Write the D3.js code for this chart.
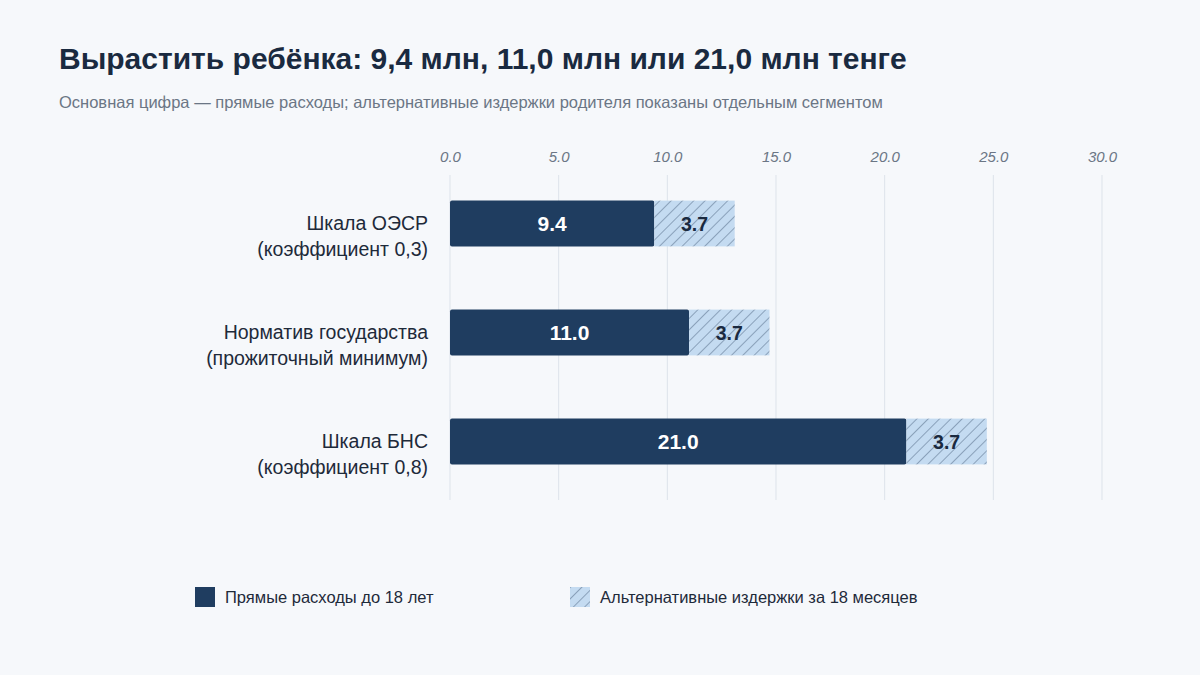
<!DOCTYPE html>
<html lang="ru">
<head>
<meta charset="UTF-8">
<title>Вырастить ребёнка</title>
<script src="https://cdn.jsdelivr.net/npm/d3@7"></script>
<style>
    body { margin: 0; background: #f6f8fb; }
    svg { display: block; font-family: "Liberation Sans", Arial, sans-serif; }
    .tick text { font-style: italic; fill: #6b7685; font-size: 15px; }
</style>
</head>
<body>
<svg width="1200" height="675"></svg>
<script>
// данные
var categories = [
    ["Шкала ОЭСР", "(коэффициент 0,3)"],
    ["Норматив государства", "(прожиточный минимум)"],
    ["Шкала БНС", "(коэффициент 0,8)"]
];
var direct = [9.4, 11.0, 21.0];
var opportunity = [3.7, 3.7, 3.7];
var tickValues = [0, 5, 10, 15, 20, 25, 30];
var seriesNames = ["Прямые расходы до 18 лет", "Альтернативные издержки за 18 месяцев"];

var dark = "#1f3d60", light = "#c4dbf1", hatchLine = "#6a829c";

var svg = d3.select("svg");

// штриховка
var defs = svg.append("defs");
var pat = defs.append("pattern")
    .attr("id", "hatch")
    .attr("patternUnits", "userSpaceOnUse")
    .attr("width", 8).attr("height", 8)
    .attr("patternTransform", "rotate(45)");
pat.append("rect").attr("width", 8).attr("height", 8).attr("fill", light);
pat.append("line").attr("x1", 0).attr("y1", 0).attr("x2", 0).attr("y2", 8)
    .attr("stroke", hatchLine).attr("stroke-width", 1.3);

svg.append("text").attr("x", 59).attr("y", 69)
    .attr("font-size", 30).attr("font-weight", 700).attr("fill", "#1a2a40")
    .text("Вырастить ребёнка: 9,4 млн, 11,0 млн или 21,0 млн тенге");
svg.append("text").attr("x", 59).attr("y", 108)
    .attr("font-size", 16.5).attr("fill", "#6b7685")
    .text("Основная цифра — прямые расходы; альтернативные издержки родителя показаны отдельным сегментом");

var x = d3.scaleLinear().domain([0, 30]).range([450, 1102]);
var y = d3.scaleBand().domain(d3.range(categories.length)).range([169, 496]).paddingInner(0.58).paddingOuter(0.29);

// сетка
svg.append("g").selectAll("line").data(tickValues).enter().append("line")
    .attr("x1", function(d) { return x(d); }).attr("x2", function(d) { return x(d); })
    .attr("y1", 175).attr("y2", 500)
    .attr("stroke", "#dde3ea").attr("stroke-width", 1);

var axis = d3.axisTop(x).tickValues(tickValues).tickFormat(d3.format(".1f")).tickSize(0).tickPadding(0);
svg.append("g").attr("transform", "translate(0,162)").call(axis)
    .call(function(g) { g.select(".domain").remove(); });

// подписи категорий
var lab = svg.append("g").selectAll("text").data(categories).enter().append("text")
    .attr("text-anchor", "end").attr("font-size", 19.5).attr("fill", "#1e2a3a");
lab.selectAll("tspan").data(function(d, i) { return d.map(function(t, j) { return { t: t, i: i, j: j }; }); })
    .enter().append("tspan")
    .attr("x", 428)
    .attr("y", function(d) { return y(d.i) + y.bandwidth() / 2 + 6 + (d.j === 0 ? 0 : 26); })
    .text(function(d) { return d.t; });

// прямые расходы
svg.append("g").selectAll("rect").data(direct).enter().append("rect")
    .attr("x", x(0)).attr("y", function(d, i) { return y(i); })
    .attr("width", function(d) { return x(d) - x(0); })
    .attr("height", y.bandwidth())
    .attr("rx", 2).attr("fill", dark);

// альтернативные издержки
svg.append("g").selectAll("rect").data(opportunity).enter().append("rect")
    .attr("x", function(d, i) { return x(direct[i]); }).attr("y", function(d, i) { return y(i); })
    .attr("width", function(d) { return x(d) - x(0); })
    .attr("height", y.bandwidth())
    .attr("fill", "url(#hatch)");

svg.append("g").selectAll("text").data(direct).enter().append("text")
    .attr("x", function(d) { return (x(0) + x(d)) / 2; })
    .attr("y", function(d, i) { return y(i) + y.bandwidth() / 2 + 7.5; })
    .attr("text-anchor", "middle").attr("font-size", 21).attr("font-weight", 700).attr("fill", "#fff")
    .text(function(d) { return d.toFixed(1); });

svg.append("g").selectAll("text").data(opportunity).enter().append("text")
    .attr("x", function(d, i) { return (x(direct[i]) + x(direct[i] + d)) / 2; })
    .attr("y", function(d, i) { return y(i) + y.bandwidth() / 2 + 7; })
    .attr("text-anchor", "middle").attr("font-size", 19.5).attr("font-weight", 700).attr("fill", "#1a2a40")
    .text(function(d) { return d.toFixed(1); });

// легенда
var legX = [195, 570];
var leg = svg.append("g").selectAll("g").data(seriesNames).enter().append("g")
    .attr("transform", function(d, i) { return "translate(" + legX[i] + ",587)"; });
leg.append("rect").attr("width", 20).attr("height", 20)
    .attr("fill", function(d, i) { return i === 0 ? dark : "url(#hatch)"; });
leg.append("text").attr("x", 30).attr("y", 16)
    .attr("font-size", 16.5).attr("fill", "#1e2a3a")
    .text(function(d) { return d; });
</script>
</body>
</html>
